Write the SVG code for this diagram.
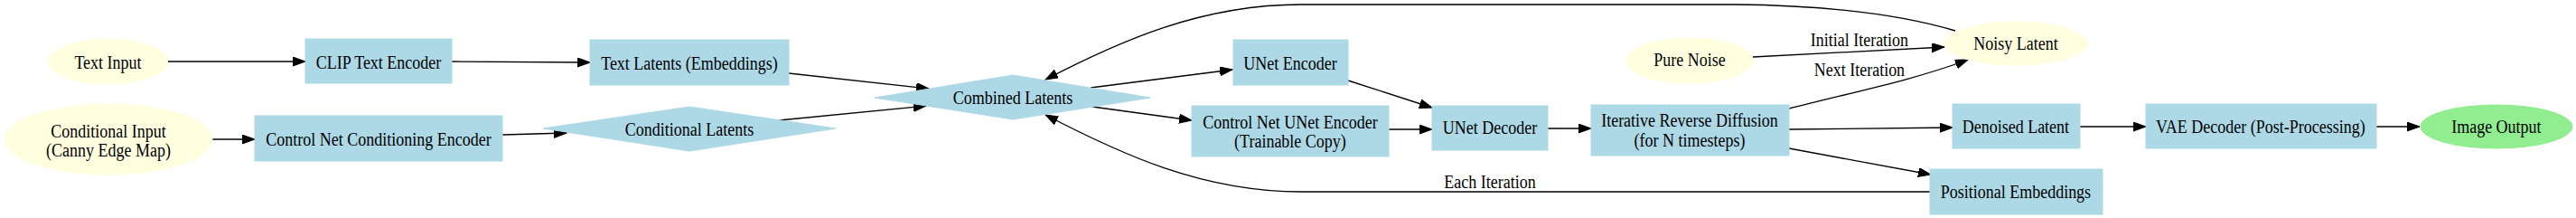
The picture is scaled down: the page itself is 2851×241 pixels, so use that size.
<svg xmlns="http://www.w3.org/2000/svg" width="2851" height="241" viewBox="0 0 2851 241">
<style>
.box{fill:#ADD8E6;stroke:#ADD8E6;stroke-width:1}
.ell{fill:#FFFFE0;stroke:#FFFFE0;stroke-width:1}
.out{fill:#90EE90;stroke:#90EE90;stroke-width:1}
.dia{fill:#ADD8E6;stroke:#ADD8E6;stroke-width:1}
text{font-family:"Liberation Serif","Times New Roman",serif;font-size:21.6px;fill:#000;text-anchor:middle}
.edge{fill:none;stroke:#000;stroke-width:1.33;marker-end:url(#arr)}
</style>
<defs>
<marker id="arr" markerUnits="userSpaceOnUse" markerWidth="15" markerHeight="11" refX="14" refY="5" orient="auto" viewBox="0 0 15 11">
<path d="M0,0 L14,5 L0,10 z" fill="#000" stroke="#000" stroke-width="1"/>
</marker>
</defs>
<rect width="2851" height="241" fill="#fff"/>

<g id="connectors">
<path class="edge" d="M186,68 L338,68"/>
<path class="edge" d="M500,68 L653,69"/>
<path class="edge" d="M234,154 L282,154"/>
<path class="edge" d="M556,149 L627,147"/>
<path class="edge" d="M873,81 L1028,98"/>
<path class="edge" d="M862,133 L1025,117"/>
<path class="edge" d="M1207,97 L1364,77"/>
<path class="edge" d="M1209,118 L1319,133"/>
<path class="edge" d="M1492,89 L1585,119"/>
<path class="edge" d="M1537,143 L1585,143"/>
<path class="edge" d="M1713,142 L1761,142"/>
<path class="edge" d="M1940,63 L2152,52"/>
<text transform="scale(0.8333,1)" x="2469.6" y="51">Initial Iteration</text>
<path class="edge" d="M1980,120 C2050,102 2120,88 2178,66"/>
<text transform="scale(0.8333,1)" x="2469.6" y="84">Next Iteration</text>
<path class="edge" d="M1980,143 L2161,141"/>
<path class="edge" d="M1980,164 L2137,193"/>
<path class="edge" d="M2302,140 L2375,140"/>
<path class="edge" d="M2630,140 L2678,140"/>
<path class="edge" d="M2164,34 C2110,18 2030,6 1920,5 L1440,5 C1330,5 1240,45 1157,88"/>
<path class="edge" d="M2136,212 L1440,212 C1330,212 1240,170 1157,127"/>
<text transform="scale(0.8333,1)" x="1978.8" y="208">Each Iteration</text>
</g>

<g id="text_input"><ellipse class="ell" cx="119.5" cy="68" rx="66" ry="25"/><text transform="scale(0.8333,1)" x="143.4" y="76">Text Input</text></g>
<g id="clip_text_encoder"><rect class="box" x="338" y="43" width="162" height="49"/><text transform="scale(0.8333,1)" x="502.8" y="76">CLIP Text Encoder</text></g>
<g id="text_latents"><rect class="box" x="653" y="44" width="220" height="50"/><text transform="scale(0.8333,1)" x="915.6" y="77">Text Latents (Embeddings)</text></g>
<g id="conditional_input"><ellipse class="ell" cx="120" cy="154" rx="115" ry="39"/><text transform="scale(0.8333,1)" x="144" y="152">Conditional Input</text><text transform="scale(0.8333,1)" x="144" y="173">(Canny Edge Map)</text></g>
<g id="control_net_conditioning_encoder"><rect class="box" x="282" y="128" width="274" height="50"/><text transform="scale(0.8333,1)" x="502.8" y="161">Control Net Conditioning Encoder</text></g>
<g id="conditional_latents"><polygon class="dia" points="763,118 925,142 763,167 601,142"/><text transform="scale(0.8333,1)" x="915.6" y="150">Conditional Latents</text></g>
<g id="combined_latents"><polygon class="dia" points="1121,83 1273,108 1121,132 968,108"/><text transform="scale(0.8333,1)" x="1345.2" y="115">Combined Latents</text></g>
<g id="unet_encoder"><rect class="box" x="1365" y="44" width="127" height="50"/><text transform="scale(0.8333,1)" x="1713.6" y="77">UNet Encoder</text></g>
<g id="control_net_unet_encoder"><rect class="box" x="1319" y="117" width="218" height="56"/><text transform="scale(0.8333,1)" x="1713.6" y="142">Control Net UNet Encoder</text><text transform="scale(0.8333,1)" x="1713.6" y="163">(Trainable Copy)</text></g>
<g id="unet_decoder"><rect class="box" x="1585" y="117" width="128" height="49"/><text transform="scale(0.8333,1)" x="1978.8" y="148">UNet Decoder</text></g>
<g id="iterative_reverse_diffusion"><rect class="box" x="1761" y="116" width="219" height="56"/><text transform="scale(0.8333,1)" x="2244" y="140">Iterative Reverse Diffusion</text><text transform="scale(0.8333,1)" x="2244" y="162">(for N timesteps)</text></g>
<g id="pure_noise"><ellipse class="ell" cx="1870" cy="67" rx="70" ry="25"/><text transform="scale(0.8333,1)" x="2244" y="73">Pure Noise</text></g>
<g id="noisy_latent"><ellipse class="ell" cx="2231" cy="48" rx="79" ry="24"/><text transform="scale(0.8333,1)" x="2677.2" y="55">Noisy Latent</text></g>
<g id="denoised_latent"><rect class="box" x="2161" y="115" width="141" height="49"/><text transform="scale(0.8333,1)" x="2677.2" y="147">Denoised Latent</text></g>
<g id="positional_embeddings"><rect class="box" x="2136" y="187" width="191" height="50"/><text transform="scale(0.8333,1)" x="2677.2" y="219">Positional Embeddings</text></g>
<g id="vae_decoder"><rect class="box" x="2375" y="115" width="255" height="49"/><text transform="scale(0.8333,1)" x="3002.4" y="147">VAE Decoder (Post-Processing)</text></g>
<g id="image_output"><ellipse class="out" cx="2763" cy="140" rx="84" ry="24"/><text transform="scale(0.8333,1)" x="3315.6" y="147">Image Output</text></g>
</svg>
